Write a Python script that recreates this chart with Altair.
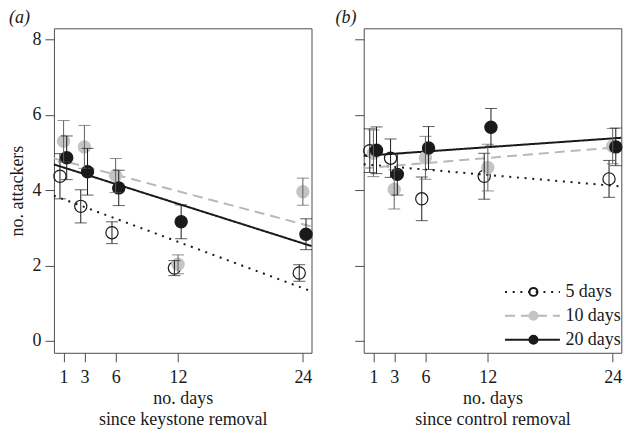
import altair as alt
import pandas as pd

# ---------------- data ----------------
days = [1, 3, 6, 12, 24]
groups = ["5 days", "10 days", "20 days"]

# panel (a): since keystone removal  (mean, standard error)
a_mean_5 = [4.37, 3.57, 2.87, 1.93, 1.80]
a_se_5 = [0.60, 0.44, 0.29, 0.20, 0.22]
a_mean_10 = [5.30, 5.15, 4.39, 2.03, 3.96]
a_se_10 = [0.55, 0.57, 0.45, 0.25, 0.36]
a_mean_20 = [4.86, 4.49, 4.06, 3.16, 2.83]
a_se_20 = [0.58, 0.62, 0.47, 0.45, 0.41]
a_fit_intercept = [3.86, 4.85, 4.69]
a_fit_slope = [-0.1026, -0.0731, -0.0876]

# panel (b): since control removal
b_mean_5 = [5.05, 4.85, 3.77, 4.37, 4.30]
b_se_5 = [0.58, 0.51, 0.58, 0.61, 0.49]
b_mean_10 = [4.98, 4.02, 4.86, 4.60, 5.17]
b_se_10 = [0.62, 0.52, 0.57, 0.62, 0.47]
b_mean_20 = [5.06, 4.42, 5.12, 5.67, 5.15]
b_se_20 = [0.62, 0.55, 0.57, 0.50, 0.50]
b_fit_intercept = [4.69, 4.58, 4.91]
b_fit_slope = [-0.0238, 0.0230, 0.0194]

# ---------------- style ----------------
FONT = "Liberation Serif"
INK = "#1a1a1a"
X_DOMAIN = [0.07, 24.83]
Y_DOMAIN = [-0.32, 8.3]
DODGE = {"5 days": -0.35, "10 days": 0.0, "20 days": 0.3}
POINT_STROKE = [INK, "#c4c4c4", INK]
POINT_FILL = ["transparent", "#c4c4c4", INK]
BAR_COLOR = {"5 days": INK, "10 days": "#5e5e5e", "20 days": INK}
LINE_COLOR = [INK, "#b8b8b8", INK]
LINE_DASH = [[2, 5.7], [10, 6], [1, 0]]
PANEL_W = 258
PANEL_H = 325


def point_table(means, ses):
    rows = []
    for g, m_list, s_list in zip(groups, means, ses):
        for d, m, s in zip(days, m_list, s_list):
            rows.append({"group": g, "day": d, "xpos": d + DODGE[g],
                         "mean": m, "lo": m - s, "hi": m + s})
    return pd.DataFrame(rows)


def fit_table(intercepts, slopes):
    rows = []
    for g, b0, b1 in zip(groups, intercepts, slopes):
        for x in X_DOMAIN:
            rows.append({"group": g, "xpos": x, "mean": b0 + b1 * x})
    return pd.DataFrame(rows)


def panel(pts, fits, label, xtitle, first, with_legend, title_dx):
    x_scale = alt.Scale(domain=X_DOMAIN, nice=False, zero=False)
    y_scale = alt.Scale(domain=Y_DOMAIN, nice=False, zero=False)
    x_axis = alt.Axis(values=days, title=xtitle)
    if first:
        y_axis = alt.Axis(values=[0, 2, 4, 6, 8], title="no. attackers")
    else:
        y_axis = alt.Axis(values=[0, 2, 4, 6, 8], title=None, labels=False)

    X = alt.X("xpos:Q", scale=x_scale, axis=x_axis)
    Y = alt.Y("mean:Q", scale=y_scale, axis=y_axis)

    if with_legend:
        leg_lines = alt.Legend(
            title=None, orient="none", legendX=160, legendY=255,
            symbolType="M-5.5,0H5.5", symbolSize=100, symbolStrokeWidth=2,
            labelFont=FONT, labelFontSize=18, labelColor=INK, labelOffset=24,
            rowPadding=6, padding=0, direction="vertical", zindex=1)
        leg_pts = alt.Legend(
            title=None, orient="none", legendX=161, legendY=255,
            symbolType="circle", symbolSize=64, symbolStrokeWidth=2,
            symbolFillColor="transparent",
            labelFont=FONT, labelFontSize=18, labelExpr="''", labelOffset=25,
            rowPadding=6, padding=0, direction="vertical", zindex=2)
    else:
        leg_lines = None
        leg_pts = None

    lines = alt.Chart(fits).mark_line(strokeWidth=2).encode(
        x=X, y=Y,
        stroke=alt.Stroke("group:N", scale=alt.Scale(domain=groups, range=LINE_COLOR),
                          legend=leg_lines),
        strokeDash=alt.StrokeDash("group:N", scale=alt.Scale(domain=groups, range=LINE_DASH),
                                  legend=leg_lines),
    )

    points = alt.Chart(pts).mark_point(
        filled=False, shape="circle", size=150, strokeWidth=1.2,
        opacity=1, fillOpacity=1
    ).encode(
        x=X, y=Y,
        color=alt.Color("group:N", sort=groups, scale=alt.Scale(range=POINT_STROKE),
                        legend=leg_pts),
        fill=alt.Fill("group:N", sort=groups, scale=alt.Scale(range=POINT_FILL),
                      legend=leg_pts),
    )

    layers = [lines, points]
    for g in groups:
        base = alt.Chart(pts).transform_filter(alt.datum.group == g)
        layers.append(base.mark_rule(color=BAR_COLOR[g], strokeWidth=1).encode(
            x=X, y=alt.Y("lo:Q", scale=y_scale, axis=y_axis), y2="hi:Q"))
        layers.append(base.transform_fold(["lo", "hi"], as_=["end", "val"]).mark_tick(
            orient="horizontal", size=12, thickness=1, color=BAR_COLOR[g]).encode(
            x=X, y=alt.Y("val:Q", scale=y_scale, axis=y_axis)))

    title = alt.TitleParams(label, anchor="start", frame="bounds", dx=title_dx)
    return alt.layer(*layers).properties(width=PANEL_W, height=PANEL_H, title=title)


pa = panel(point_table([a_mean_5, a_mean_10, a_mean_20], [a_se_5, a_se_10, a_se_20]),
           fit_table(a_fit_intercept, a_fit_slope),
           "(a)", ["no. days", "since keystone removal"], True, False, 0)
pb = panel(point_table([b_mean_5, b_mean_10, b_mean_20], [b_se_5, b_se_10, b_se_20]),
           fit_table(b_fit_intercept, b_fit_slope),
           "(b)", ["no. days", "since control removal"], False, True, -18.7)

chart = alt.hconcat(pa, pb, spacing=18.3).resolve_scale(
    color="independent", fill="independent", stroke="independent",
    strokeDash="independent"
).properties(padding=0).configure_view(
    stroke="#4d4d4d", strokeWidth=1
).configure_axis(
    domain=False, grid=False, tickColor="#4d4d4d", tickSize=9, tickWidth=1,
    labelFont=FONT, labelFontSize=18, labelColor=INK, labelFlush=False,
    titleFont=FONT, titleFontSize=18, titleFontWeight="normal", titleColor=INK
).configure_axisX(
    labelPadding=7, titlePadding=3, titleLineHeight=21
).configure_axisY(
    labelPadding=4, titlePadding=5
).configure_title(
    font=FONT, fontSize=18, fontStyle="italic", fontWeight="normal",
    color=INK, offset=1
)

chart.save("out.html", embed_options={"renderer": "svg", "actions": False})
